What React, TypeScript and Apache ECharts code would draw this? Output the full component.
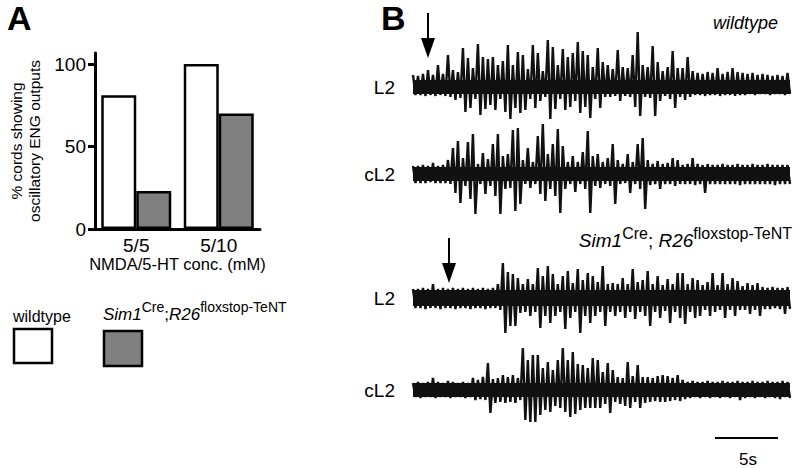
import React, { useEffect, useRef } from "react";
import * as echarts from "echarts";

// ---------- Panel A data ----------
const categories = ["5/5", "5/10"];
const wildtypeValues = [81, 100];
const tentValues = [23, 70];
const yTickValues = [0, 50, 100];

// ---------- Panel B data: envelope (px above / below baseline), one sample per 5 px ----------
const wtL2Up = [12,11,13,17,12,22,13,32,17,15, 39,29,19,43,30,28,30,22,26,42, 22,35,32,18,42,34,16,47,40,22, 38,30,34,45,36,32,20,39,25,22, 18,37,20,19,32,55,22,20,41,25, 16,20,36,19,19,30,16,14,13,15, 14,19,13,15,19,15,14,13,14,12, 13,12,11,12,11,14];
const wtL2Down = [8,8,9,8,9,8,9,10,13,11, 25,21,12,28,22,18,23,12,25,32, 21,26,23,12,21,14,10,32,22,12, 23,20,14,26,20,31,12,21,10,10, 9,14,9,10,20,29,10,11,29,14, 9,12,21,10,13,10,8,8,9,8, 8,9,8,8,9,8,8,7,8,7, 7,8,7,7,8,7];
const wtCL2Up = [8,8,9,8,11,8,9,14,26,33, 16,32,40,10,21,15,30,40,18,20, 44,46,14,26,12,38,50,20,30,45, 28,12,18,12,22,43,18,20,12,16, 30,14,10,20,12,30,36,14,10,13, 10,11,16,14,9,10,16,10,9,10, 9,9,10,9,9,10,9,9,10,9, 9,10,9,9,9,9];
const wtCL2Down = [9,9,9,8,9,9,9,10,19,29, 12,25,40,10,20,12,22,40,15,14, 37,30,10,14,10,20,27,15,22,39, 15,10,18,10,15,39,12,14,10,12, 30,10,9,19,10,15,35,11,10,15, 10,10,12,10,10,10,11,10,19,10, 10,10,10,10,10,11,10,10,10,10, 10,10,11,10,10,10];
const mutL2Up = [9,9,10,9,14,9,10,9,10,9, 10,9,10,9,10,9,10,14,35,26, 24,20,14,19,14,30,22,32,24,14, 22,27,15,29,18,25,22,16,32,14, 15,14,20,14,29,16,18,27,14,22, 13,19,14,25,25,14,20,18,13,16, 25,13,25,14,20,17,12,15,13,15, 11,10,11,10,10,11];
const mutL2Down = [10,10,11,10,10,11,10,10,11,10, 10,11,10,10,11,10,10,12,35,28, 28,15,14,18,14,30,18,25,18,14, 31,20,14,35,18,25,18,14,28,14, 18,14,20,14,21,14,18,28,14,20, 13,25,14,20,26,14,20,18,12,18, 14,12,20,12,18,12,12,16,12,18, 11,11,10,11,16,11];
const mutCL2Up = [7,8,7,8,12,8,7,9,8,7, 8,7,12,10,13,27,11,12,15,13, 15,12,42,30,35,35,22,28,20,30, 42,30,38,26,25,22,32,30,18,27, 20,13,12,28,14,25,13,13,12,14, 15,14,12,15,10,8,9,8,8,9, 8,8,9,8,8,9,8,8,9,8, 8,9,8,8,9,8];
const mutCL2Down = [7,8,7,7,8,7,7,8,7,7, 8,7,10,9,10,23,13,12,13,12, 13,10,30,32,32,25,20,22,16,18, 22,27,24,20,18,18,18,18,14,23, 12,14,16,18,12,18,13,12,11,12, 12,11,10,11,9,8,7,8,7,8, 7,8,7,8,7,10,8,7,8,7, 8,7,8,9,7,8];

// half-thickness of the solid noise band of each trace (px)
const coreBand = [7, 7, 8, 7];
const traceLabels = ["L2", "cL2", "L2", "cL2"];

const FONT = "'Liberation Sans', Arial, Helvetica, sans-serif";

function zigzag(up: number[], down: number[]) {
  const pts: number[][] = [];
  for (let i = 0; i < up.length; i++) {
    pts.push([i, up[i]]);
    pts.push([i + 0.5, -down[i]]);
  }
  return pts;
}

export default function App() {
  const ref = useRef<HTMLDivElement>(null);

  useEffect(() => {
    if (!ref.current) return;
    const chart = echarts.init(ref.current, undefined, { renderer: "svg" });

    const traces = [
      { up: wtL2Up, down: wtL2Down, top: 27 },
      { up: wtCL2Up, down: wtCL2Down, top: 114 },
      { up: mutL2Up, down: mutL2Down, top: 238 },
      { up: mutCL2Up, down: mutCL2Down, top: 330 },
    ];

    const grids: any[] = [{ left: 95, top: 53, width: 165, height: 176 }];
    const xAxes: any[] = [
      {
        type: "category",
        gridIndex: 0,
        data: categories,
        axisLine: { lineStyle: { color: "#000", width: 3 } },
        axisTick: { show: false },
        axisLabel: { color: "#000", fontSize: 19, fontFamily: FONT, margin: 7 },
        name: "NMDA/5-HT conc. (mM)",
        nameLocation: "middle",
        nameGap: 25,
        nameTextStyle: { color: "#000", fontSize: 16.5, fontFamily: FONT },
      },
    ];
    const yAxes: any[] = [
      {
        type: "value",
        gridIndex: 0,
        min: 0,
        max: 106.67,
        axisLine: { show: true, lineStyle: { color: "#000", width: 3 } },
        axisTick: { show: true, length: 7, customValues: yTickValues, lineStyle: { color: "#000", width: 3 } },
        axisLabel: { customValues: yTickValues, color: "#000", fontSize: 19, fontFamily: FONT, margin: 9 },
        splitLine: { show: false },
        name: "% cords showing\noscillatory ENG outputs",
        nameLocation: "middle",
        nameRotate: 90,
        nameGap: 52,
        nameTextStyle: { color: "#000", fontSize: 15.5, fontFamily: FONT, lineHeight: 18 },
      },
    ];
    const series: any[] = [
      {
        name: "wildtype",
        type: "bar",
        xAxisIndex: 0,
        yAxisIndex: 0,
        data: wildtypeValues,
        barWidth: 35,
        barGap: "0%",
        itemStyle: { color: "#ffffff", borderColor: "#000", borderWidth: 2.5 },
      },
      {
        name: "Sim1Cre;R26floxstop-TeNT",
        type: "bar",
        xAxisIndex: 0,
        yAxisIndex: 0,
        data: tentValues,
        barWidth: 35,
        itemStyle: { color: "#808080", borderColor: "#000", borderWidth: 2.5 },
      },
    ];

    traces.forEach((t, k) => {
      const gi = k + 1;
      grids.push({ left: 413, top: t.top, width: 377, height: 120 });
      xAxes.push({ type: "value", gridIndex: gi, min: 0, max: 75.5, show: false });
      yAxes.push({
        type: "value",
        gridIndex: gi,
        min: -60,
        max: 60,
        axisLine: { show: false },
        axisTick: { show: false },
        axisLabel: { show: false },
        splitLine: { show: false },
        name: traceLabels[k],
        nameLocation: "middle",
        nameRotate: 0,
        nameGap: 18,
        nameTextStyle: { color: "#000", fontSize: 19, fontFamily: FONT },
      });
      series.push({
        type: "line",
        xAxisIndex: gi,
        yAxisIndex: gi,
        data: zigzag(t.up, t.down),
        showSymbol: false,
        silent: true,
        clip: false,
        lineStyle: { color: "#111", width: 2.4, join: "bevel" },
        markArea: {
          silent: true,
          itemStyle: { color: "#111", opacity: 1 },
          data: [[{ xAxis: 0, yAxis: -coreBand[k] }, { xAxis: 75.5, yAxis: coreBand[k] }]],
        },
      });
    });

    const txt = (text: string, x: number, y: number, size: number, extra: any = {}) => ({
      type: "text",
      x,
      y,
      style: {
        text,
        fill: "#000",
        font: `${extra.italic ? "italic " : ""}${extra.weight || "normal"} ${size}px ${FONT}`,
        fontStyle: extra.italic ? "italic" : "normal",
        fontSize: size,
        fontFamily: FONT,
        fontWeight: extra.weight || "normal",
        align: extra.align || "left",
        verticalAlign: "middle",
        textAlign: extra.align || "left",
        textVerticalAlign: "middle",
      },
    });

    const richGenotype = (x: number, y: number, main: number, sup: number, sep: string, align: string) => ({
      type: "text",
      x,
      y,
      style: {
        text: `{i|Sim1}{s|Cre}{n|${sep}}{i|R26}{s|floxstop-TeNT}`,
        fill: "#000",
        align,
        textAlign: align,
        verticalAlign: "middle",
        textVerticalAlign: "middle",
        rich: {
          i: { fontStyle: "italic", fontSize: main, fontFamily: FONT, fill: "#000" },
          n: { fontSize: main, fontFamily: FONT, fill: "#000" },
          s: { fontSize: sup, fontFamily: FONT, fill: "#000", padding: [0, 0, 14, 0] },
        },
      },
    });

    const graphic: any[] = [
      txt("A", 7, 18, 34, { weight: "bold" }),
      txt("B", 381, 18, 34, { weight: "bold" }),
      // legend
      txt("wildtype", 13, 316, 16),
      richGenotype(103, 314, 17, 14, ";", "left"),
      { type: "rect", shape: { x: 14, y: 329, width: 38, height: 34 }, style: { fill: "#fff", stroke: "#000", lineWidth: 2.5 } },
      { type: "rect", shape: { x: 104, y: 331, width: 38, height: 35 }, style: { fill: "#808080", stroke: "#000", lineWidth: 2.5 } },
      // panel B labels
      txt("wildtype", 778, 23, 18, { italic: true, align: "right" }),
      richGenotype(792, 240, 19, 16, "; ", "right"),
      // arrows
      { type: "line", shape: { x1: 428, y1: 13, x2: 428, y2: 42 }, style: { stroke: "#000", lineWidth: 2 } },
      { type: "polygon", shape: { points: [[421, 38], [435, 38], [428, 58]] }, style: { fill: "#000" } },
      { type: "line", shape: { x1: 449, y1: 238, x2: 449, y2: 266 }, style: { stroke: "#000", lineWidth: 2 } },
      { type: "polygon", shape: { points: [[442, 263], [456, 263], [449, 283]] }, style: { fill: "#000" } },
      // scale bar
      { type: "line", shape: { x1: 715, y1: 438, x2: 778, y2: 438 }, style: { stroke: "#000", lineWidth: 2 } },
      txt("5s", 748, 459, 17, { align: "center" }),
    ];

    chart.setOption({
      animation: false,
      backgroundColor: "#ffffff",
      textStyle: { fontFamily: FONT },
      grid: grids,
      xAxis: xAxes,
      yAxis: yAxes,
      series,
      graphic,
    });

    return () => chart.dispose();
  }, []);

  return (
    <div
      ref={ref}
      style={{ position: "fixed", left: 0, top: 0, width: 800, height: 468, background: "#fff" }}
    />
  );
}
